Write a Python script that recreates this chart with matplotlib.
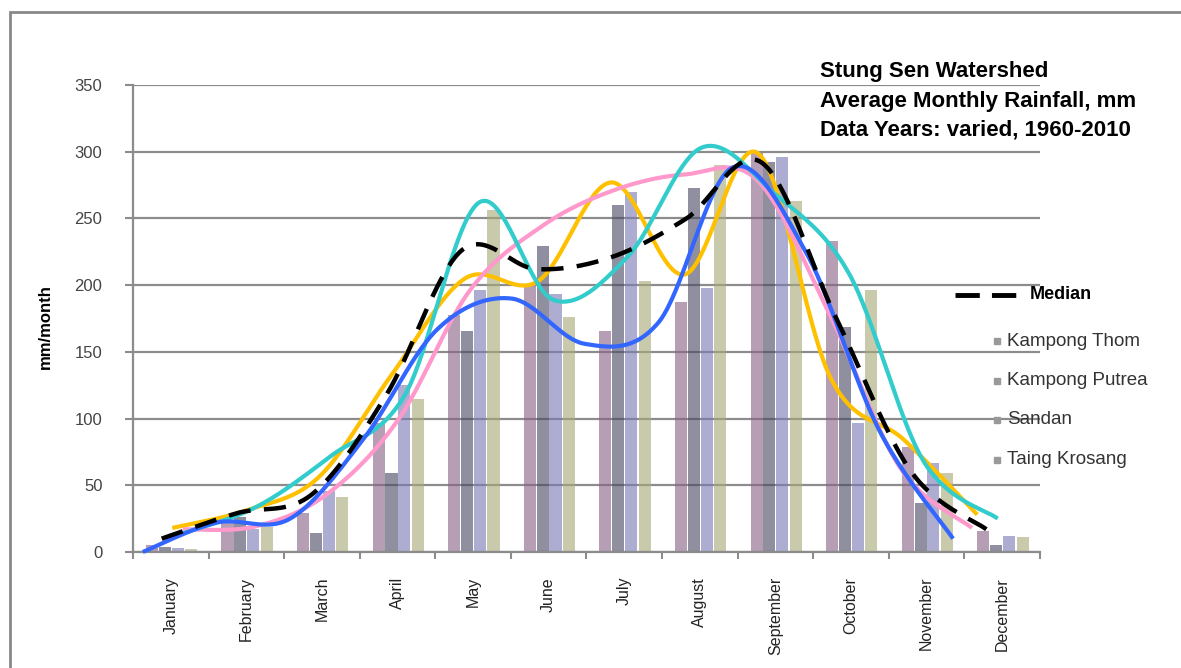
import numpy as np
import matplotlib.pyplot as plt
from matplotlib.patches import Rectangle
from matplotlib.lines import Line2D

plt.rcParams['font.family'] = ['Liberation Sans', 'DejaVu Sans']

months = ['January', 'February', 'March', 'April', 'May', 'June', 'July',
          'August', 'September', 'October', 'November', 'December']
stations = ['Kampong Thom', 'Kampong Putrea', 'Sandan', 'Taing Krosang']

# bar values, mm/month
kampong_thom = [5, 22, 29, 97, 178, 199, 166, 187, 299, 233, 79, 16]
kampong_putrea = [4, 26, 14, 59, 166, 229, 260, 273, 292, 169, 37, 5]
sandan = [3, 17, 46, 125, 196, 193, 270, 198, 296, 97, 67, 12]
taing_krosang = [2, 19, 41, 115, 256, 176, 203, 290, 263, 196, 59, 11]

# smoothed curves drawn over the bars
curve_yellow = [18, 31, 56, 133, 205, 203, 277, 208, 299, 130, 84, 28]
curve_pink = [17, 19, 43, 99, 196, 244, 271, 283, 279, 180, 63, 18]
curve_cyan = [14, 34, 72, 118, 262, 189, 221, 303, 268, 208, 68, 25]
curve_blue = [0, 22, 25, 85, 167, 190, 156, 172, 288, 225, 91, 10]
median = [10, 29, 43, 118, 226, 212, 221, 250, 292, 175, 60, 17]


def smooth(xs, ys, n=40):
    # excel-like bezier smoothing through the points
    p = np.column_stack([xs, ys]).astype(float)
    p = np.vstack([p[0], p, p[-1]])
    out = []
    t = np.linspace(0, 1, n)[:, None]
    for i in range(1, len(p) - 2):
        p0, p1, p2, p3 = p[i - 1], p[i], p[i + 1], p[i + 2]
        c1 = p1 + (p2 - p0) / 6
        c2 = p2 - (p3 - p1) / 6
        b = (1 - t) ** 3 * p1 + 3 * (1 - t) ** 2 * t * c1 + 3 * (1 - t) * t ** 2 * c2 + t ** 3 * p2
        out.append(b)
    b = np.vstack(out)
    return b[:, 0], b[:, 1]


fig = plt.figure(figsize=(11.81, 6.68), dpi=100)
ax = fig.add_axes([0.1126, 0.1737, 0.768, 0.699])

x = np.arange(12)
bar_colors = ['#8a6388', '#4b4a66', '#7b7bb6', '#a9a97a']
offsets = [-0.25, -0.08, 0.09, 0.27]
for vals, off, c in zip([kampong_thom, kampong_putrea, sandan, taing_krosang], offsets, bar_colors):
    ax.bar(x + off, vals, width=0.16, color=c, alpha=0.62, edgecolor='none', zorder=2)

curves = [
    (curve_yellow, '#ffc000', 0.02, 10.67),
    (curve_pink, '#ff99cc', 0.16, 10.60),
    (curve_cyan, '#33cccc', 0.16, 10.94),
    (curve_blue, '#3366ff', -0.37, 10.35),
]
for vals, c, x0, x1 in curves:
    sx, sy = smooth(np.linspace(x0, x1, 12), vals)
    ax.plot(sx, sy, color=c, lw=3, zorder=3, solid_capstyle='butt', clip_on=False)

sx, sy = smooth(np.linspace(-0.12, 10.79, 12), median)
ax.plot(sx, sy, color='black', lw=3.2, ls=(0, (5, 3)), zorder=4, clip_on=False)

ax.set_xlim(-0.5, 11.5)
ax.set_ylim(0, 350)
ax.set_yticks(np.arange(0, 351, 50))
ax.yaxis.grid(True, color='#8c8c8c', lw=1.6)
ax.set_axisbelow(True)
for s in ['top', 'right']:
    ax.spines[s].set_visible(False)
for s in ['left', 'bottom']:
    ax.spines[s].set_color('#8c8c8c')
    ax.spines[s].set_linewidth(1.6)

ax.set_xticks(np.arange(-0.5, 12, 1))
ax.set_xticklabels([])
ax.set_xticks(x, minor=True)
ax.set_xticklabels(months, minor=True, rotation=90, fontsize=11.5, color='#222222')
ax.tick_params(axis='x', which='minor', length=0, pad=18)
ax.tick_params(axis='x', which='major', length=5, color='#8c8c8c', width=1.5)
ax.tick_params(axis='y', length=6, color='#8c8c8c', width=1.5, labelsize=12,
               labelcolor='#444444', pad=16)

fig.text(45 / 1181, 1 - 327 / 668, 'mm/month', rotation=90, fontsize=12,
         fontweight='bold', ha='center', va='center')

title = ['Stung Sen Watershed', 'Average Monthly Rainfall, mm', 'Data Years: varied, 1960-2010']
for i, line in enumerate(title):
    fig.text(820 / 1181, 1 - (72 + 29 * i) / 668, line, fontsize=16, fontweight='bold',
             ha='left', va='center')

# legend
fig.add_artist(Line2D([955 / 1181, 1022 / 1181], [1 - 295 / 668] * 2, color='black',
                      lw=3.5, ls=(0, (5, 2.5))))
fig.text(1030 / 1181, 1 - 295 / 668, 'Median', fontsize=13, fontweight='bold',
         ha='left', va='center')
for i, name in enumerate(stations):
    yy = 1 - (341 + 39.5 * i) / 668
    fig.add_artist(Line2D([997 / 1181], [yy], marker='s', ms=4.5, color='#999999', ls='none'))
    fig.text(1007 / 1181, yy, name, fontsize=13.5, color='#333333', ha='left', va='center')

# outer frame, runs off the right and bottom edges
top = 1 - 12 / 668
fig.add_artist(Rectangle((10 / 1181, -0.2), 1.2, top + 0.2, fill=False,
                         edgecolor='#888888', lw=2, transform=fig.transFigure))

fig.savefig('out.png', dpi=100)
